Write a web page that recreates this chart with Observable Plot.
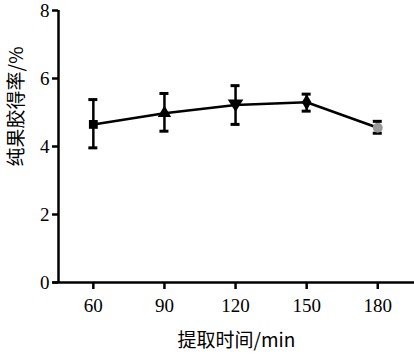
<!DOCTYPE html>
<html><head><meta charset="utf-8">
<script src="https://cdn.jsdelivr.net/npm/d3@7"></script>
<script src="https://cdn.jsdelivr.net/npm/@observablehq/plot@0.6"></script>
<style>body{margin:0;background:#fff}</style>
</head><body><div id="chart"></div>
<script>
const times = [60, 90, 120, 150, 180];
const yields = [4.65, 4.98, 5.22, 5.3, 4.55];
const errLow = [3.96, 4.45, 4.65, 5.04, 4.39];
const errHigh = [5.38, 5.56, 5.79, 5.54, 4.74];
const symbols = ["square", "triangle", "triangle-down", "diamond", "circle"];
const fills = ["#000", "#000", "#000", "#000", "#999"];
const yTicks = [0, 2, 4, 6, 8];
const xLabel = "提取时间/min";
const yLabel = "纯果胶得率/%";

const data = times.map((t, i) => ({t, y: yields[i], lo: errLow[i], hi: errHigh[i], s: symbols[i], f: fills[i]}));

const triDown = {draw(ctx, size){ const r = Math.sqrt(size/1.3); ctx.moveTo(-r, -r*0.7); ctx.lineTo(r, -r*0.7); ctx.lineTo(0, r*0.9); ctx.closePath(); }};
const symMap = {"square": d3.symbolSquare, "triangle": d3.symbolTriangle, "triangle-down": triDown, "diamond": d3.symbolDiamond, "circle": d3.symbolCircle};

const serif = "Liberation Serif, DejaVu Serif, serif";
const cjk = "Noto Sans CJK SC, sans-serif";
const capHalf = 1.9;

const chart = Plot.plot({
  width: 414, height: 354,
  marginLeft: 58, marginRight: 0, marginTop: 10, marginBottom: 72,
  style: {background: "#fff", color: "#000"},
  x: {domain: [45.3, 195.5], axis: null},
  y: {domain: [0, 8], axis: null},
  symbol: {type: "identity"},
  marks: [
    Plot.axisY({ticks: yTicks, tickSize: 6, tickPadding: 3, tickFormat: d => d, label: null, strokeWidth: 2.5, fontSize: 19, fontFamily: serif}),
    Plot.axisX({ticks: times, tickSize: 7, tickPadding: 9, tickFormat: d => d, label: null, strokeWidth: 2.5, fontSize: 19, fontFamily: serif}),
    Plot.ruleX([45.3], {y1: 0, y2: 8, strokeWidth: 2.5}),
    Plot.ruleY([0], {x1: 43, x2: 195.5, strokeWidth: 2.5, clip: false}),
    Plot.line(data, {x: "t", y: "y", strokeWidth: 2.5, stroke: "#000"}),
    Plot.ruleX(data, {x: "t", y1: "lo", y2: "hi", strokeWidth: 2.5}),
    Plot.ruleY(data, {y: "lo", x1: d => d.t - capHalf, x2: d => d.t + capHalf, strokeWidth: 3}),
    Plot.ruleY(data, {y: "hi", x1: d => d.t - capHalf, x2: d => d.t + capHalf, strokeWidth: 3}),
    Plot.dot(data, {x: "t", y: "y", symbol: d => symMap[d.s], fill: "f", r: 5, stroke: "none"}),
    Plot.text([xLabel], {frameAnchor: "bottom", dy: 64, fontFamily: cjk, fontSize: 19}),
    Plot.text([yLabel], {frameAnchor: "left", dx: -42, rotate: -90, fontFamily: cjk, fontSize: 19, dy: 20})
  ]
});
document.getElementById("chart").append(chart);
</script>
</body></html>
